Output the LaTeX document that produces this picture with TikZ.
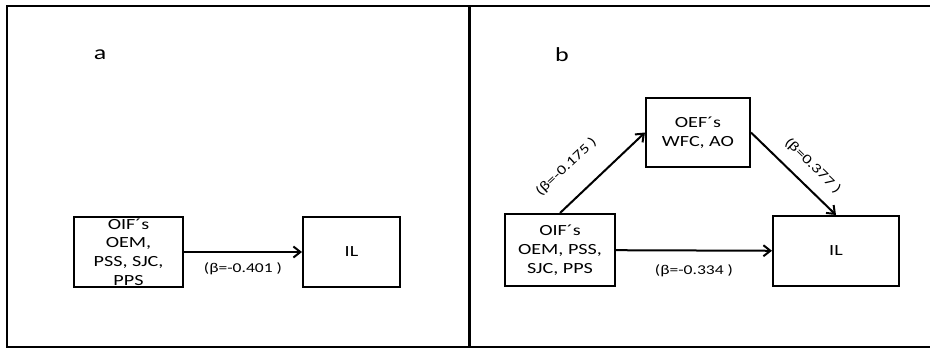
\documentclass[tikz,border=0pt]{standalone}
\usepackage{fontspec}
\setmainfont[FakeStretch=1.3]{Carlito}
\usepackage{tikz}
\usetikzlibrary{arrows.meta}

\tikzset{
	varbox/.style={draw, line width=2pt, inner sep=0pt},
	vartext/.style={align=center, font=\fontsize{15.5}{18.8}\selectfont},
	path/.style={line width=2pt, -{Straight Barb[length=7pt,width=11pt]}},
	beta/.style={font=\fontsize{13.5}{16}\selectfont, inner sep=1pt},
}

\begin{document}
\begin{tikzpicture}[x=1pt,y=-1pt]
		\useasboundingbox (0,0) rectangle (930,349) ;
		% frame of the two panels
		\draw[line width=1.5pt] (930,6) -- (7,6) -- (7,347) -- (930,347) ;
		\draw[line width=3pt] (469,6) -- (469,347) ;
		\node[font=\fontsize{20}{24}\selectfont] (a) at (100,55) {a} ;
		\node[font=\fontsize{20}{24}\selectfont] (b) at (562,55) {b} ;
		% panel a
		\node[varbox, minimum width=109pt, minimum height=70pt] (oifA) at (128.5,252) {} ;
		\node[vartext] (oifAtext) at (oifA) {OIF´s\\OEM,\\PSS, SJC,\\PPS} ;
		\node[varbox, minimum width=97pt, minimum height=70pt] (ilA) at (351.5,252) {} ;
		\node[vartext] (ilAtext) at (ilA) {IL} ;
		\draw[path] (oifA) -- (ilA) node[beta, midway, below=9pt] {(β=-0.401 )} ;
		% panel b
		\node[varbox, minimum width=110pt, minimum height=72pt] (oifB) at (560,250) {} ;
		\node[vartext] (oifBtext) at (oifB) {OIF´s\\OEM, PSS,\\SJC, PPS} ;
		\node[varbox, minimum width=104pt, minimum height=69pt] (oef) at (698,132.5) {} ;
		\node[vartext] (oeftext) at (oef) {OEF´s\\WFC, AO} ;
		\node[varbox, minimum width=126pt, minimum height=70pt] (ilB) at (836,251) {} ;
		\node[vartext] (ilBtext) at (ilB) {IL} ;
		\draw[path] (oifB.north) -- (oef.west) node[beta, sloped, pos=0.31, above=21pt] {(β=-0.175 )} ;
		\draw[path] (oef.east) -- (ilB.north) node[beta, sloped, pos=0.57, above=11pt] {(β=0.377 )} ;
		\draw[path] (oifB) -- (ilB) node[beta, midway, below=12pt] {(β=-0.334 )} ;
	\end{tikzpicture}
\end{document}
